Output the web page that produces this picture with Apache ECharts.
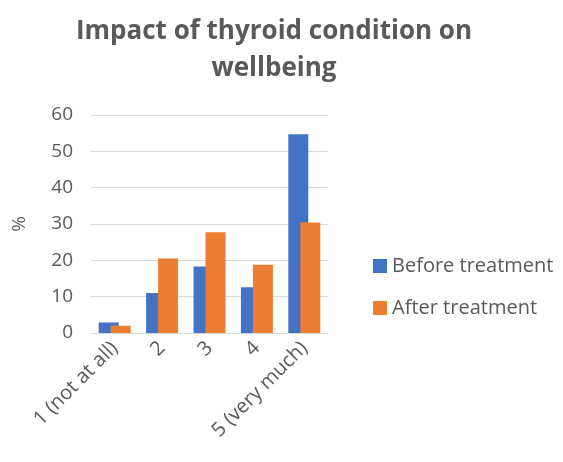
<!DOCTYPE html>
<html>
<head>
<meta charset="utf-8">
<script src="https://cdn.jsdelivr.net/npm/echarts@6/dist/echarts.min.js"></script>
<style>
  html, body { margin: 0; padding: 0; background: #ffffff; }
  #main { width: 563px; height: 462px; }
</style>
</head>
<body>
<div id="main"></div>
<script>
// chart data
var categories = ['1 (not at all)', '2', '3', '4', '5 (very much)'];
var beforeValues = [2.9, 11.0, 18.3, 12.6, 54.7];
var afterValues = [2.0, 20.5, 27.7, 18.8, 30.4];
var seriesNames = ['Before treatment', 'After treatment'];
var yTicks = [0, 10, 20, 30, 40, 50, 60];

var textColor = '#595959';
var font = 'Open Sans';

var mychart = echarts.init(document.getElementById('main'), null, { renderer: 'canvas' });

var option = {
  backgroundColor: '#ffffff',
  color: ['#4472C4', '#ED7D31'],
  animation: false,
  title: {
    text: 'Impact of thyroid condition on\nwellbeing',
    left: 269,
    textAlign: 'center',
    top: 8,
    textStyle: {
      fontFamily: font,
      fontSize: 26,
      fontWeight: 'bold',
      color: textColor,
      lineHeight: 37
    }
  },
  legend: {
    orient: 'vertical',
    left: 368,
    top: 251,
    itemWidth: 14,
    itemHeight: 14,
    itemGap: 22,
    icon: 'rect',
    textStyle: {
      fontFamily: font,
      fontSize: 20,
      color: textColor
    },
    data: seriesNames
  },
  grid: {
    left: 91,
    right: 235,
    top: 115,
    bottom: 129,
    containLabel: false
  },
  xAxis: {
    type: 'category',
    data: categories,
    axisTick: { show: false },
    axisLine: { lineStyle: { color: '#d9d9d9', width: 1 } },
    axisLabel: {
      rotate: 45,
      interval: 0,
      margin: 12,
      fontFamily: font,
      fontSize: 20,
      color: textColor
    }
  },
  yAxis: {
    type: 'value',
    min: yTicks[0],
    max: yTicks[yTicks.length - 1],
    interval: 10,
    name: '%',
    nameLocation: 'middle',
    nameGap: 62,
    nameRotate: 90,
    nameTextStyle: {
      fontFamily: font,
      fontSize: 19,
      color: textColor
    },
    axisLine: { show: false },
    axisTick: { show: false },
    splitLine: { lineStyle: { color: '#d9d9d9', width: 1 } },
    axisLabel: {
      margin: 18,
      fontFamily: font,
      fontSize: 19,
      color: textColor
    }
  },
  series: [{
    name: seriesNames[0],
    type: 'bar',
    data: beforeValues,
    barWidth: 20,
    barGap: '-40%',
    barCategoryGap: '33%'
  }, {
    name: seriesNames[1],
    type: 'bar',
    data: afterValues,
    barWidth: 20,
    barGap: '-40%',
    barCategoryGap: '33%'
  }]
};

mychart.setOption(option);
</script>
</body>
</html>
